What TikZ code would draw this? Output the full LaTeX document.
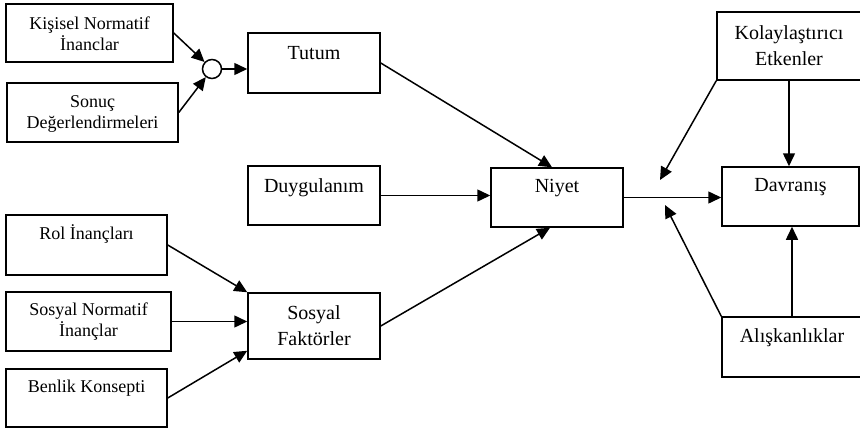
\documentclass[tikz,border=0pt]{standalone}
\usepackage{fontspec}
\setmainfont{Liberation Serif}
\usetikzlibrary{arrows.meta,calc}
\begin{document}
\begin{tikzpicture}[x=1pt,y=-1pt,
  box/.style={draw, line width=1.5pt, inner sep=0pt},
  ltxt/.style={inner sep=0pt, align=center, font=\fontsize{18}{21}\selectfont},
  rtxt/.style={inner sep=0pt, align=center, font=\fontsize{20}{26}\selectfont},
  arr/.style={line width=1.5pt, -{Triangle[length=13pt,width=12pt]}},
  junc/.style={draw, circle, line width=1.5pt, minimum size=19pt, inner sep=0pt}
]
\path[use as bounding box, fill=white] (0,0) rectangle (860,431);

% left column
\node[box, minimum width=167pt, minimum height=58pt] (kis) at (89.5,33) {};
\node[ltxt] (kisT) at ($(kis.north)+(0,31)$) {Kişisel Normatif\\İnanclar};
\node[box, minimum width=171pt, minimum height=59pt] (son) at (92.5,112.5) {};
\node[ltxt] (sonT) at ($(son.north)+(0,32)$) {Sonuç\\Değerlendirmeleri};
\node[box, minimum width=161pt, minimum height=60pt] (rol) at (86.5,245) {};
\node[ltxt] (rolT) at ($(rol.north)+(0,20)$) {Rol İnançları};
\node[box, minimum width=165pt, minimum height=59pt] (sn) at (88.5,321.5) {};
\node[ltxt] (snT) at ($(sn.north)+(0,30.5)$) {Sosyal Normatif\\İnançlar};
\node[box, minimum width=161pt, minimum height=58pt] (ben) at (86.5,398) {};
\node[ltxt] (benT) at ($(ben.north)+(0,20)$) {Benlik Konsepti};

% junction circle
\node[junc] (circ) at (212,69) {};

% middle column
\node[box, minimum width=132pt, minimum height=60pt] (tutum) at (314,63) {};
\node[rtxt] (tutumT) at ($(tutum.north)+(0,21)$) {Tutum};
\node[box, minimum width=132pt, minimum height=59pt] (duyg) at (314,195.5) {};
\node[rtxt] (duygT) at ($(duyg.north)+(0,22)$) {Duygulanım};
\node[box, minimum width=132pt, minimum height=66pt] (sf) at (314,326) {};
\node[rtxt] (sfT) at ($(sf.north)+(0,33)$) {Sosyal\\Faktörler};

\node[box, minimum width=132pt, minimum height=59pt] (niyet) at (557,197.5) {};
\node[rtxt] (niyetT) at ($(niyet.north)+(0,21)$) {Niyet};

% right column
\node[box, minimum width=144pt, minimum height=68pt] (kol) at (789,46) {};
\node[rtxt] (kolT) at ($(kol.north)+(0,34)$) {Kolaylaştırıcı\\Etkenler};
\node[box, minimum width=137pt, minimum height=59pt] (dav) at (790.5,196.5) {};
\node[rtxt] (davT) at ($(dav.north)+(0,21)$) {Davranış};
\node[box, minimum width=140pt, minimum height=60pt] (alis) at (792,347) {};
\node[rtxt] (alisT) at ($(alis.north)+(0,21)$) {Alışkanlıklar};

\coordinate (j1) at (660,180);
\coordinate (j2) at (665,205);

% connectors
\draw[arr] (kis.east) -- (circ);
\draw[arr] (son.east) -- (circ);
\draw[arr] (circ.east) -- (circ.east -| tutum.west);
\draw[arr] (tutum.east) -- ($(niyet.north)+(-5,0)$);
\draw[arr] (duyg.east) -- (duyg.east -| niyet.west);
\draw[arr] (sf.east) -- ($(niyet.south)+(-7,0)$);
\draw[arr] (rol.east) -- (sf.north west);
\draw[arr] (sn.east) -- (sn.east -| sf.west);
\draw[arr] (ben.east) -- ($(sf.south west)+(0,-9)$);
\draw[arr] (niyet.east) -- (niyet.east -| dav.west);
\draw[arr] (kol.south west) -- (j1);
\draw[arr] (kol.south) -- (kol.south |- dav.north);
\draw[arr] (alis.north) -- (alis.north |- dav.south);
\draw[arr] (alis.north west) -- (j2);
\end{tikzpicture}
\end{document}
